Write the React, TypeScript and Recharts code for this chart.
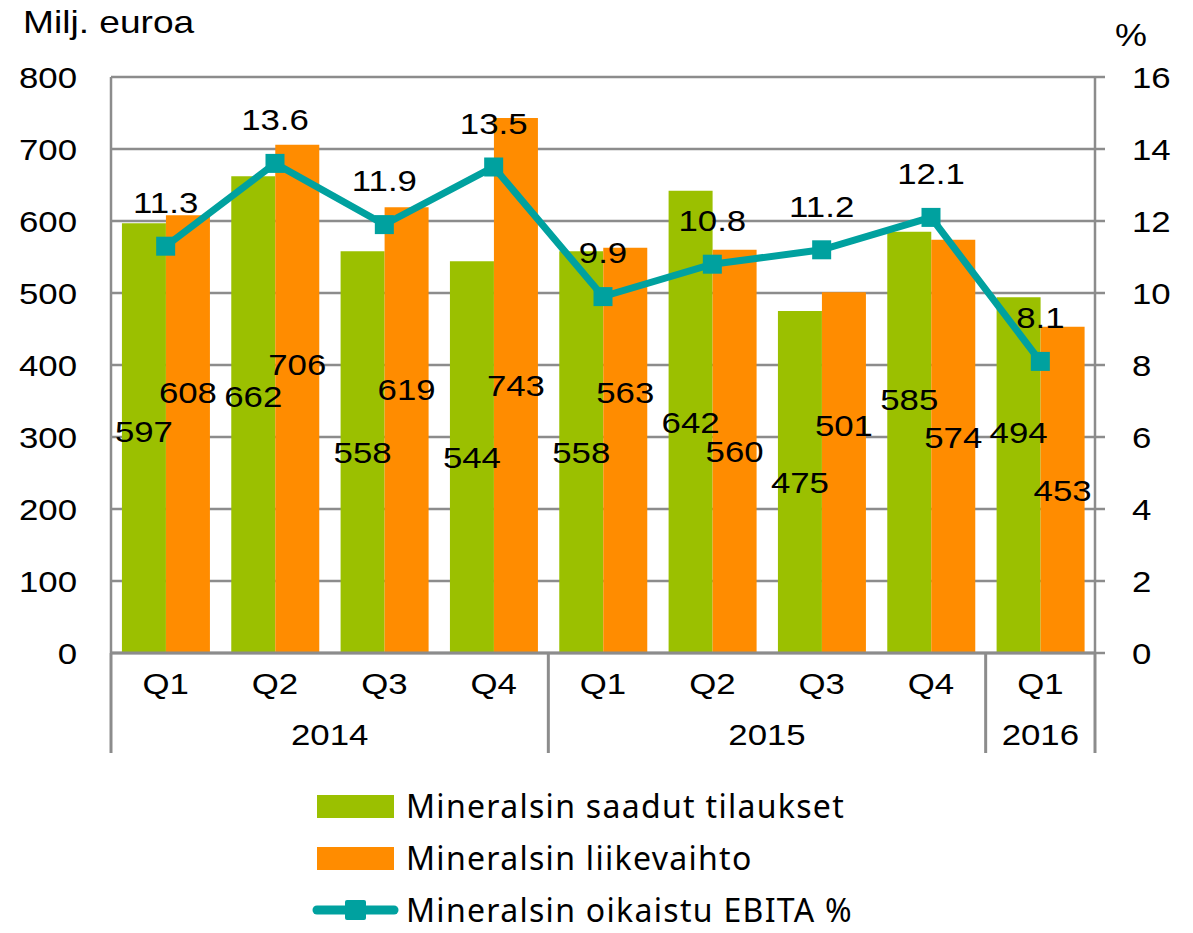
import React from 'react';
import { ComposedChart, Bar, Line, XAxis, YAxis, CartesianGrid, LabelList, Legend } from 'recharts';

const quarters = ['Q1', 'Q2', 'Q3', 'Q4', 'Q1', 'Q2', 'Q3', 'Q4', 'Q1'];
const years = ['2014', '2014', '2014', '2014', '2015', '2015', '2015', '2015', '2016'];
const ordersReceived = [597, 662, 558, 544, 558, 642, 475, 585, 494];
const netSales = [608, 706, 619, 743, 563, 560, 501, 574, 453];
const ebitaPct = [11.3, 13.6, 11.9, 13.5, 9.9, 10.8, 11.2, 12.1, 8.1];
const leftTicks = [0, 100, 200, 300, 400, 500, 600, 700, 800];
const rightTicks = [0, 2, 4, 6, 8, 10, 12, 14, 16];

const NAME_ORDERS = 'Mineralsin saadut tilaukset';
const NAME_SALES = 'Mineralsin liikevaihto';
const NAME_EBITA = 'Mineralsin oikaistu EBITA %';

// label placement tweaks (pixels, relative to bar centre)
const greenLabelShift = [-7, -18, 0, 0, 0, 0, 0, -43, -43];
const orangeLabelShift = [-42, -35, -41, 0, -58, 0, -47, -9, 0];

const data = quarters.map((q, i) => ({
  key: years[i] + '-' + q,
  orders: ordersReceived[i],
  sales: netSales[i],
  ebita: ebitaPct[i],
}));

const W = 1193;
const H = 933;
const PLOT_LEFT = 111;
const PLOT_RIGHT = 1095;
const PLOT_BOTTOM = 653;
const BAND = (PLOT_RIGHT - PLOT_LEFT) / quarters.length;

const GREEN = '#9BC000';
const ORANGE = '#FF8C00';
const TEAL = '#00A19F';
const GRID = '#8C8C8C';
const SX = 1.16;
const FONT = '"Liberation Sans", Arial, sans-serif';

const T = ({ x, y, anchor = 'middle', size = 30, children }: any) => (
  <text
    transform={`translate(${x},${y}) scale(${SX},1)`}
    textAnchor={anchor}
    fontSize={size}
    fontFamily={FONT}
    fill="#000"
  >
    {children}
  </text>
);

const leftTick = (p: any) => (
  <T x={77} y={p.y + 10.7} anchor="end">{p.payload.value}</T>
);
const rightTick = (p: any) => (
  <T x={1132} y={p.y + 10.7} anchor="start">{p.payload.value}</T>
);
const quarterTick = (p: any) => (
  <T x={p.x} y={694}>{quarters[p.index]}</T>
);
const yearTick = (p: any) => {
  const i = p.index;
  const yr = years[i];
  const isStart = i === 0 || years[i - 1] !== yr;
  let count = 0;
  for (let j = i; j < years.length && years[j] === yr; j++) count++;
  const isLast = i === years.length - 1;
  const half = BAND / 2;
  return (
    <g>
      {isStart && (
        <line x1={p.x - half} x2={p.x - half} y1={PLOT_BOTTOM} y2={753} stroke={GRID} strokeWidth={3} />
      )}
      {isStart && <T x={p.x + ((count - 1) * BAND) / 2} y={745}>{yr}</T>}
      {isLast && (
        <line x1={p.x + half} x2={p.x + half} y1={PLOT_BOTTOM} y2={753} stroke={GRID} strokeWidth={3} />
      )}
    </g>
  );
};

const barLabel = (shifts: number[]) => (p: any) => {
  const vb = p.viewBox || {};
  const x = p.x ?? vb.x;
  const y = p.y ?? vb.y;
  const w = p.width ?? vb.width;
  const h = p.height ?? vb.height;
  const cy = y + h / 2 + shifts[p.index];
  return <T x={x + w / 2} y={cy + 10.7}>{p.value}</T>;
};

const lineLabel = (p: any) => {
  const vb = p.viewBox || {};
  const x = p.x ?? vb.x;
  const y = p.y ?? vb.y;
  return <T x={x} y={y - 44 + 10.7}>{Number(p.value).toFixed(1)}</T>;
};

const squareDot = (p: any) => (
  <rect key={'d' + p.index} x={p.cx - 9.5} y={p.cy - 9.5} width={19} height={19} fill={TEAL} />
);

const legendContent = (props: any) => {
  const payload: any[] = props.payload || [];
  const order = ['orders', 'sales', 'ebita'];
  const items = order
    .map((k) => payload.find((e) => e.dataKey === k))
    .filter(Boolean);
  return (
    <div style={{ position: 'relative' }}>
      {items.map((e: any, i: number) => (
        <div
          key={e.dataKey}
          style={{ display: 'flex', alignItems: 'center', height: 36, marginTop: i === 0 ? 0 : 16 }}
        >
          <div style={{ width: 96, height: 30, position: 'relative' }}>
            {e.dataKey === 'ebita' ? (
              <svg width={96} height={30} style={{ display: 'block' }}>
                <line x1={7} x2={84} y1={15} y2={15} stroke={TEAL} strokeWidth={9} strokeLinecap="round" />
                <rect x={35} y={5} width={21} height={20} rx={2} fill={TEAL} />
              </svg>
            ) : (
              <div
                style={{
                  position: 'absolute',
                  left: 7,
                  top: 4,
                  width: 77,
                  height: 23,
                  background: e.dataKey === 'orders' ? GREEN : ORANGE,
                }}
              />
            )}
          </div>
          <span
            style={{
              fontFamily: '"Noto Sans", sans-serif',
              fontSize: 32,
              lineHeight: '36px',
              letterSpacing: 1.3,
              color: '#000',
              whiteSpace: 'nowrap',
            }}
          >
            {e.value}
          </span>
        </div>
      ))}
    </div>
  );
};

export default function App() {
  return (
    <div style={{ position: 'absolute', left: 0, top: 0, width: W, height: H, background: '#fff' }}>
      <ComposedChart
        width={W}
        height={H}
        data={data}
        margin={{ top: 77, left: 11, right: 0, bottom: 180 }}
        barCategoryGap="10%"
        barGap={0}
      >
        <CartesianGrid yAxisId="left" vertical={false} stroke={GRID} strokeWidth={2.5} />
        <XAxis
          dataKey="key"
          height={50}
          interval={0}
          axisLine={{ stroke: GRID, strokeWidth: 3 }}
          tickLine={false}
          tick={quarterTick}
        />
        <XAxis
          xAxisId="yr"
          dataKey="key"
          height={50}
          interval={0}
          axisLine={false}
          tickLine={false}
          tick={yearTick}
        />
        <YAxis
          yAxisId="left"
          width={100}
          domain={[0, 800]}
          ticks={leftTicks}
          interval={0}
          axisLine={{ stroke: GRID, strokeWidth: 2.5 }}
          tickLine={false}
          tick={leftTick}
          label={{ content: () => <T x={23} y={33} anchor="start" size={32}>Milj. euroa</T> }}
        />
        <YAxis
          yAxisId="right"
          orientation="right"
          width={98}
          domain={[0, 16]}
          ticks={rightTicks}
          interval={0}
          axisLine={{ stroke: GRID, strokeWidth: 2.5 }}
          tickLine={{ stroke: GRID, strokeWidth: 2.5 }}
          tickSize={10}
          tick={rightTick}
          label={{ content: () => <T x={1115} y={46} anchor="start" size={31}>%</T> }}
        />
        <Bar yAxisId="left" dataKey="orders" name={NAME_ORDERS} fill={GREEN} isAnimationActive={false}>
          <LabelList dataKey="orders" content={barLabel(greenLabelShift)} />
        </Bar>
        <Bar yAxisId="left" dataKey="sales" name={NAME_SALES} fill={ORANGE} isAnimationActive={false}>
          <LabelList dataKey="sales" content={barLabel(orangeLabelShift)} />
        </Bar>
        <Line
          yAxisId="right"
          dataKey="ebita"
          name={NAME_EBITA}
          stroke={TEAL}
          strokeWidth={7}
          dot={squareDot}
          activeDot={false}
          isAnimationActive={false}
        >
          <LabelList dataKey="ebita" content={lineLabel} />
        </Line>
        <Legend
          layout="vertical"
          align="center"
          verticalAlign="middle"
          wrapperStyle={{ top: 788, left: 310, width: 700, height: 140 }}
          content={legendContent}
        />
      </ComposedChart>
    </div>
  );
}
